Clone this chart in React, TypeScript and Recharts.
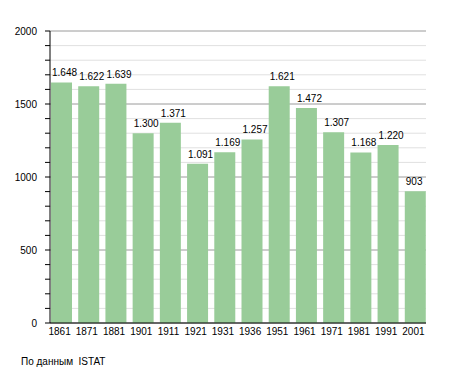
import React from "react";
import { BarChart, Bar, XAxis, YAxis, CartesianGrid, LabelList } from "recharts";

const years = ["1861", "1871", "1881", "1901", "1911", "1921", "1931", "1936", "1951", "1961", "1971", "1981", "1991", "2001"];
const population = [1648, 1622, 1639, 1300, 1371, 1091, 1169, 1257, 1621, 1472, 1307, 1168, 1220, 903];
const yTicks = [0, 100, 200, 300, 400, 500, 600, 700, 800, 900, 1000, 1100, 1200, 1300, 1400, 1500, 1600, 1700, 1800, 1900, 2000];
const majorTicks = [0, 500, 1000, 1500, 2000];
const sourceText = "По данным  ISTAT";

const data = years.map((y, i) => ({ year: y, value: population[i] }));

const FONT = '"Liberation Sans", Arial, sans-serif';

const fmt = (v: number) =>
  v >= 1000 ? `${Math.floor(v / 1000)}.${String(v % 1000).padStart(3, "0")}` : String(v);

const YTick = (props: any) => {
  const { x, y, payload } = props;
  if (payload.value % 500 !== 0) return <g />;
  return (
    <text x={x} y={y} dy="0.355em" textAnchor="end" fontSize={10} fontFamily={FONT} fill="#000">
      {payload.value}
    </text>
  );
};

const BarLabel = (props: any) => {
  const { x, y, value } = props;
  return (
    <text x={Number(x) + 1} y={Number(y) - 6} textAnchor="start" fontSize={10} fontFamily={FONT} fill="#000">
      {fmt(Number(value))}
    </text>
  );
};

export default function App() {
  return (
    <div style={{ position: "absolute", left: 0, top: 0, width: 455, height: 373, background: "#fff" }}>
      <BarChart width={455} height={373} data={data} margin={{ top: 31, right: 29, left: 8, bottom: 20 }}>
        <CartesianGrid vertical={false} stroke="#e0e0e0" horizontalValues={yTicks} />
        <CartesianGrid vertical={false} stroke="#aaaaaa" horizontalValues={majorTicks} />
        <XAxis
          dataKey="year"
          height={30}
          tickLine={false}
          tickSize={0}
          tickMargin={5}
          axisLine={{ stroke: "#000" }}
          interval={0}
          padding={{ left: -2, right: -3 }}
          tick={{ fontSize: 10, fontFamily: FONT, fill: "#000", dx: -2 }}
        />
        <YAxis
          width={42}
          domain={[0, 2000]}
          ticks={yTicks}
          interval={0}
          tickSize={5}
          tickMargin={8}
          axisLine={{ stroke: "#000" }}
          tickLine={{ stroke: "#000" }}
          tick={<YTick />}
        />
        <Bar dataKey="value" fill="#99cc99" barSize={21} isAnimationActive={false}>
          <LabelList dataKey="value" content={<BarLabel />} />
        </Bar>
      </BarChart>
      <div
        style={{
          position: "absolute",
          left: 21,
          top: 356,
          fontSize: 10,
          fontFamily: FONT,
          whiteSpace: "pre",
          color: "#000",
        }}
      >
        {sourceText}
      </div>
    </div>
  );
}
